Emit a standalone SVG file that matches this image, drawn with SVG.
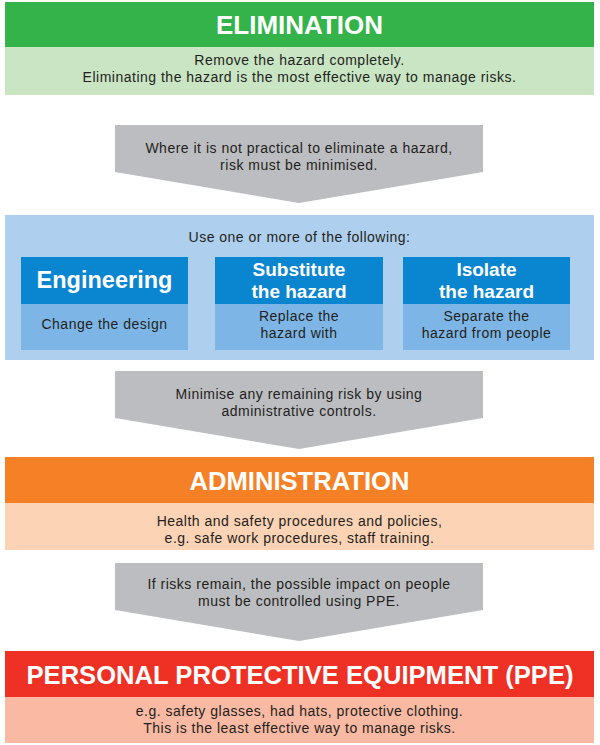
<svg xmlns="http://www.w3.org/2000/svg" width="600" height="745" viewBox="0 0 600 745">
<style>
.t{font-family:"Liberation Sans",Arial,sans-serif;font-size:14px;letter-spacing:0.5px;fill:#231f20;text-anchor:middle}
.h{font-family:"Liberation Sans",Arial,sans-serif;font-weight:bold;fill:#ffffff;text-anchor:middle}
.arrow{fill:#bcbdc0}
</style>
<rect width="600" height="745" fill="#ffffff"/>
<g id="elimination">
<rect x="5" y="2" width="589" height="45" fill="#34b34a"/>
<rect x="5" y="47" width="589" height="48" fill="#c9e5c4"/>
<text class="h" x="299.5" y="34" font-size="26">ELIMINATION</text>
<text class="t" x="299.5" y="65">Remove the hazard completely.</text>
<text class="t" x="299.5" y="82">Eliminating the hazard is the most effective way to manage risks.</text>
</g>
<g id="connectors">
<g id="arrow1">
<polygon class="arrow" points="115,125 483,125 483,172 299,203 115,172"/>
<text class="t" x="299" y="153">Where it is not practical to eliminate a hazard,</text>
<text class="t" x="299" y="170">risk must be minimised.</text>
</g>
<g id="arrow2">
<polygon class="arrow" points="115,371 483,371 483,418 299,449 115,418"/>
<text class="t" x="299" y="399">Minimise any remaining risk by using</text>
<text class="t" x="299" y="416">administrative controls.</text>
</g>
<g id="arrow3">
<polygon class="arrow" points="115,563 483,563 483,610 299,641 115,610"/>
<text class="t" x="299" y="589">If risks remain, the possible impact on people</text>
<text class="t" x="299" y="606">must be controlled using PPE.</text>
</g>
</g>
<g id="minimise">
<rect x="5" y="215" width="589" height="145" fill="#aed0ee"/>
<text class="t" x="299.5" y="242">Use one or more of the following:</text>
</g>
<g id="engineering">
<rect x="21" y="257" width="167" height="47" fill="#0a85d0"/>
<rect x="21" y="304" width="167" height="46" fill="#7db6e6"/>
<text class="h" x="104.5" y="288" font-size="23.5">Engineering</text>
<text class="t" x="104.5" y="329">Change the design</text>
</g>
<g id="substitute">
<rect x="215" y="257" width="168" height="47" fill="#0a85d0"/>
<rect x="215" y="304" width="168" height="46" fill="#7db6e6"/>
<text class="h" x="299" y="276" font-size="19">Substitute</text>
<text class="h" x="299" y="298" font-size="19">the hazard</text>
<text class="t" x="299" y="321">Replace the</text>
<text class="t" x="299" y="338">hazard with</text>
</g>
<g id="isolate">
<rect x="403" y="257" width="167" height="47" fill="#0a85d0"/>
<rect x="403" y="304" width="167" height="46" fill="#7db6e6"/>
<text class="h" x="486.5" y="276" font-size="19">Isolate</text>
<text class="h" x="486.5" y="298" font-size="19">the hazard</text>
<text class="t" x="486.5" y="321">Separate the</text>
<text class="t" x="486.5" y="338">hazard from people</text>
</g>
<g id="administration">
<rect x="5" y="457" width="589" height="46" fill="#f58025"/>
<rect x="5" y="503" width="589" height="47" fill="#fcd3b5"/>
<text class="h" x="299.5" y="490" font-size="25.6">ADMINISTRATION</text>
<text class="t" x="299.5" y="526">Health and safety procedures and policies,</text>
<text class="t" x="299.5" y="543">e.g. safe work procedures, staff training.</text>
</g>
<g id="ppe">
<rect x="5" y="651" width="589" height="46" fill="#ee3124"/>
<rect x="5" y="697" width="589" height="46" fill="#f9b9a2"/>
<text class="h" x="300" y="684" font-size="25.6">PERSONAL PROTECTIVE EQUIPMENT (PPE)</text>
<text class="t" x="299.5" y="716">e.g. safety glasses, had hats, protective clothing.</text>
<text class="t" x="299.5" y="733">This is the least effective way to manage risks.</text>
</g>
</svg>
